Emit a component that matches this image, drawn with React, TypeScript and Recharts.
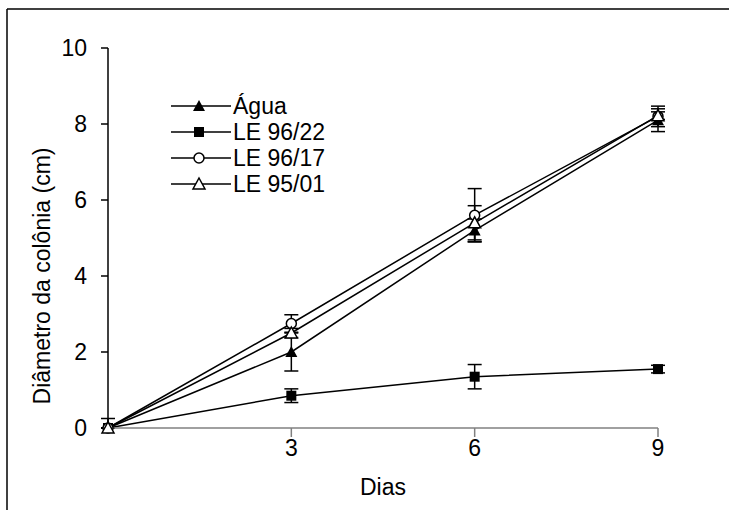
import React from "react";
import { LineChart, Line, XAxis, YAxis, ErrorBar } from "recharts";

const days = [0, 3, 6, 9];
const agua = [0, 2.0, 5.2, 8.1];
const aguaErr = [[0, 0.25], [0.5, 0.5], [0.3, 0.3], [0.3, 0.3]];
const le9622 = [0, 0.85, 1.35, 1.55];
const le9622Err = [[0, 0], [0.18, 0.18], [0.32, 0.32], [0.1, 0.1]];
const le9617 = [0, 2.75, 5.6, 8.2];
const le9617Err = [[0, 0], [0.23, 0.23], [0.7, 0.7], [0.27, 0.27]];
const le9501 = [0, 2.5, 5.4, 8.22];
const le9501Err = [[0, 0], [0.12, 0.12], [0.45, 0.45], [0.1, 0.1]];
const xTicks = [3, 6, 9];
const yTicks = [0, 2, 4, 6, 8, 10];
const seriesNames = ["Água", "LE 96/22", "LE 96/17", "LE 95/01"];

const data = days.map((d, i) => ({
  dia: d,
  agua: agua[i],
  aguaErr: aguaErr[i],
  le9622: le9622[i],
  le9622Err: le9622Err[i],
  le9617: le9617[i],
  le9617Err: le9617Err[i],
  le9501: le9501[i],
  le9501Err: le9501Err[i],
}));

const FONT = "'Liberation Sans', Arial, sans-serif";
const FS = 23;

type MarkerKind = "triFilled" | "square" | "circle" | "triOpen";
const kinds: MarkerKind[] = ["triFilled", "square", "circle", "triOpen"];

function Marker({ kind, cx, cy }: { kind: MarkerKind; cx: number; cy: number }) {
  if (kind === "square") {
    return <rect x={cx - 5} y={cy - 5} width={10} height={10} fill="#000" />;
  }
  if (kind === "circle") {
    return <circle cx={cx} cy={cy} r={5} fill="#fff" stroke="#000" strokeWidth={1.5} />;
  }
  const pts = `${cx},${cy - 6} ${cx + 6},${cy + 5} ${cx - 6},${cy + 5}`;
  if (kind === "triFilled") return <polygon points={pts} fill="#000" />;
  return <polygon points={pts} fill="#fff" stroke="#000" strokeWidth={1.5} />;
}

const makeDot = (kind: MarkerKind) => (props: any) => {
  const { cx, cy, index } = props;
  if (cx == null || cy == null) return <g key={index} />;
  return <Marker key={index} kind={kind} cx={cx} cy={cy} />;
};

function YLabel() {
  const cy = 276;
  const cx = 42;
  return (
    <text
      x={cx}
      y={cy}
      transform={`rotate(-90, ${cx}, ${cy})`}
      textAnchor="middle"
      dominantBaseline="central"
      fontSize={FS}
      fontFamily={FONT}
      fill="#000"
    >
      Diâmetro da colônia (cm)
    </text>
  );
}

const keys = ["agua", "le9622", "le9617", "le9501"];

export default function App() {
  return (
    <div style={{ position: "absolute", left: 0, top: 0, width: 729, height: 510, background: "#fff" }}>
      <LineChart
        width={729}
        height={510}
        data={data}
        margin={{ top: 48, right: 71, bottom: 0, left: 0 }}
      >
        <XAxis
          dataKey="dia"
          type="number"
          domain={[0, 9]}
          ticks={xTicks}
          stroke="#808080"
          strokeWidth={1.5}
          tickSize={9}
          tickMargin={3}
          height={82}
          tick={{ fill: "#000", fontSize: FS, fontFamily: FONT }}
          label={{ value: "Dias", position: "insideBottom", offset: 15, fill: "#000", fontSize: FS, fontFamily: FONT }}
        />
        <YAxis
          type="number"
          domain={[0, 10]}
          ticks={yTicks}
          width={108}
          stroke="#000"
          strokeWidth={1.5}
          tickSize={7}
          tickMargin={14}
          tick={{ fill: "#000", fontSize: FS, fontFamily: FONT }}
          label={<YLabel />}
        />
        {keys.map((k, i) => (
          <Line
            key={k}
            dataKey={k}
            name={seriesNames[i]}
            stroke="#000"
            strokeWidth={1.5}
            isAnimationActive={false}
            dot={makeDot(kinds[i])}
            activeDot={false}
          >
            <ErrorBar dataKey={`${k}Err`} direction="y" width={7} stroke="#000" strokeWidth={1.5} />
          </Line>
        ))}
      </LineChart>
      <svg width={729} height={510} style={{ position: "absolute", left: 0, top: 0, pointerEvents: "none" }}>
        <line x1={7} y1={9} x2={729} y2={9} stroke="#000" strokeWidth={1.5} />
        <line x1={7} y1={9} x2={7} y2={510} stroke="#000" strokeWidth={1.5} />
        {seriesNames.map((n, i) => {
          const y = 106 + i * 26;
          return (
            <g key={n}>
              <line x1={171} x2={231} y1={y} y2={y} stroke="#000" strokeWidth={1.5} />
              <Marker kind={kinds[i]} cx={199} cy={y} />
              <text x={233} y={y} dominantBaseline="central" fontSize={FS} fontFamily={FONT} fill="#000">
                {n}
              </text>
            </g>
          );
        })}
      </svg>
    </div>
  );
}
